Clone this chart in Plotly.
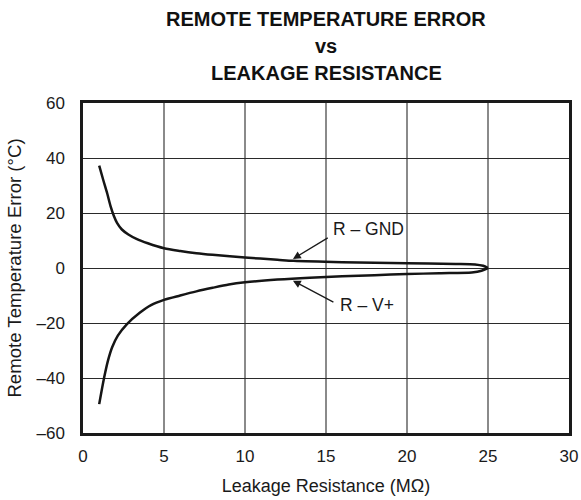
import plotly.graph_objects as go

# Data
r_gnd_x = [1, 1.25, 1.5, 1.7, 1.9, 2.1, 2.4, 2.8, 3.3, 4, 5, 6, 7, 8, 10, 12, 13, 16, 20, 23, 24.2, 24.7, 25]
r_gnd_y = [37.2, 32, 27, 22.5, 19, 16.4, 14.0, 12.2, 10.6, 9.0, 7.2, 6.2, 5.4, 4.8, 3.8, 3.0, 2.6, 2.1, 1.7, 1.5, 1.3, 0.8, 0]

r_vp_x = [1, 1.3, 1.55, 1.8, 2.15, 2.7, 3.5, 4.2, 5, 6, 7, 8, 9, 10, 12, 14, 16, 18, 20, 22, 24, 24.6, 25]
r_vp_y = [-49.5, -40, -33.5, -28.8, -24.6, -20.5, -16.3, -13.5, -11.6, -10, -8.5, -7.2, -6, -5.2, -4.2, -3.5, -3.0, -2.6, -2.2, -1.9, -1.6, -1.0, 0]

x_ticks = [0, 5, 10, 15, 20, 25, 30]
y_ticks = [-60, -40, -20, 0, 20, 40, 60]
y_tick_text = ["\u201360", "\u201340", "\u201320", "0", "20", "40", "60"]
title_lines = ["REMOTE TEMPERATURE ERROR", "vs", "LEAKAGE RESISTANCE"]

font_family = "Liberation Sans, Arial, sans-serif"
W, H = 581, 500
TOP, BOTTOM, LEFT, RIGHT = 103, 67, 83, 12
PH = H - TOP - BOTTOM
INK = "#1a1a1a"

fig = go.Figure()
for xs, ys in ((r_gnd_x, r_gnd_y), (r_vp_x, r_vp_y)):
    fig.add_trace(go.Scatter(x=xs, y=ys, mode="lines",
                             line=dict(color="#151515", width=2.5, shape="spline", smoothing=0.8),
                             showlegend=False, hoverinfo="skip"))

fig.update_xaxes(range=[0, 30], tickvals=x_ticks, showgrid=True, gridcolor="#8a8a8a", gridwidth=1.5,
                 zeroline=False, showline=True, linecolor=INK, linewidth=2.5, mirror=True,
                 ticks="", automargin=False, ticklabelstandoff=6,
                 tickfont=dict(size=17, color=INK, family=font_family),
                 title=dict(text="Leakage Resistance (M\u03a9)", font=dict(size=18, color=INK, family=font_family), standoff=15))
fig.update_yaxes(range=[-60, 60], tickvals=y_ticks, ticktext=y_tick_text, showgrid=True, gridcolor="#2a2a2a", gridwidth=1,
                 zeroline=False, showline=True, linecolor=INK, linewidth=2.5, mirror=True,
                 ticks="", automargin=False, ticklabelstandoff=12,
                 tickfont=dict(size=17, color=INK, family=font_family),
                 title=dict(text="Remote Temperature Error (\u00b0C)", font=dict(size=18.6, color=INK, family=font_family), standoff=10))

fig.add_annotation(x=12.96, y=3.3, ax=15.2, ay=11.3, xref="x", yref="y", axref="x", ayref="y",
                   text="", showarrow=True, arrowhead=2, arrowsize=1.2, arrowwidth=1.3, arrowcolor=INK)
fig.add_annotation(x=15.3, y=14.3, xref="x", yref="y", text="R \u2013 GND", showarrow=False, xanchor="left",
                   font=dict(size=17.5, color=INK, family=font_family))
fig.add_annotation(x=12.96, y=-4.6, ax=15.55, ay=-12.7, xref="x", yref="y", axref="x", ayref="y",
                   text="", showarrow=True, arrowhead=2, arrowsize=1.2, arrowwidth=1.3, arrowcolor=INK)
fig.add_annotation(x=15.75, y=-13.4, xref="x", yref="y", text="R \u2013 V+", showarrow=False, xanchor="left",
                   font=dict(size=17.5, color=INK, family=font_family))

for txt, ypx in zip(title_lines, [19, 46, 73]):
    fig.add_annotation(xref="paper", yref="paper", x=0.5, y=1 + (TOP - ypx) / PH, xanchor="center", yanchor="middle",
                       text="<b>" + txt + "</b>", showarrow=False,
                       font=dict(size=20, color="#111", family=font_family))

fig.update_layout(
    width=W, height=H,
    margin=dict(l=LEFT, r=RIGHT, t=TOP, b=BOTTOM),
    paper_bgcolor="white", plot_bgcolor="white",
)

fig.write_html("out.html", config={"displayModeBar": False},
               post_script="document.body.style.margin='0';document.body.style.overflow='hidden';")
